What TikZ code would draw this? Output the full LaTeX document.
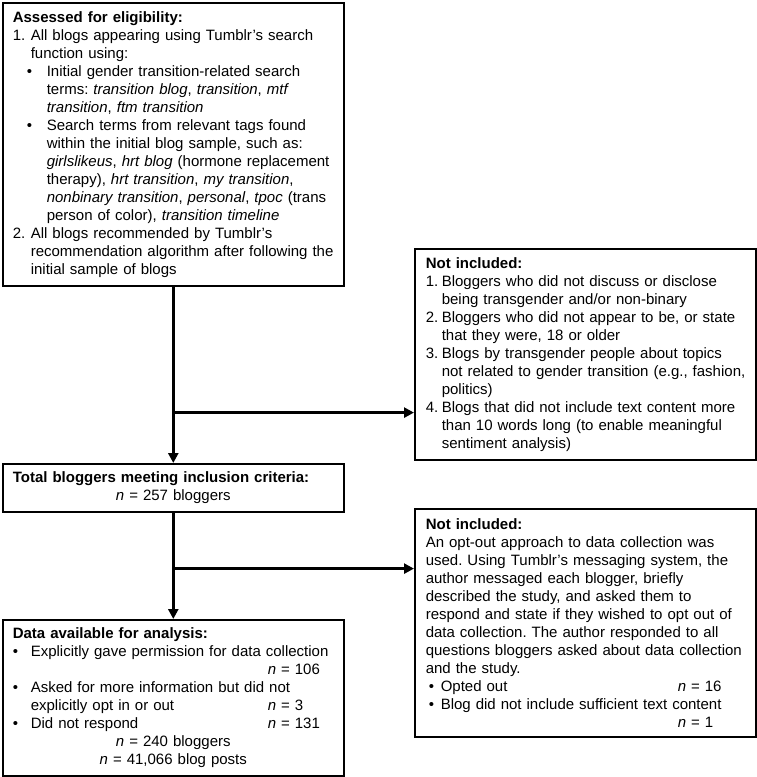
\documentclass[tikz,border=0pt]{standalone}
\usepackage{fontspec}
\setmainfont{Liberation Sans}
\usetikzlibrary{arrows.meta,positioning,calc}
\newcommand{\boxfont}{\fontsize{15}{18}\selectfont}
%% numbered line with hanging indent
\newcommand{\numline}[3][18pt]{\par\hangindent=#1\hangafter=1\noindent
\makebox[#1][l]{#2}#3\par}
%% bullet line: [indent]{label width}{text}
\newcommand{\bulline}[3][0pt]{\par\hangindent=\dimexpr#1+#2\relax\hangafter=1\noindent
\hspace*{#1}\makebox[#2][l]{\textbullet}#3\par}

\begin{document}
\begin{tikzpicture}
[x=1pt,y=-1pt,
box/.style={draw,line width=1.6pt,inner xsep=10pt,inner ysep=4pt,text width=321pt,
  minimum width=341pt,anchor=north west,font=\boxfont,
  execute at begin node={\setlength{\parindent}{0pt}\raggedright\frenchspacing}},
xbox/.style={box,inner xsep=11pt,text width=319pt},
flow/.style={line width=3pt,-{Triangle[length=10pt,width=10pt]}}
]
\useasboundingbox (0,0) rectangle (757,777);
%% main column
\node[box,minimum height=283pt] (assess) at (2,2) {%
\textbf{Assessed for eligibility:}\par
\numline{1.}{All blogs appearing using Tumblr's search\newline function using:}
\bulline[14pt]{20pt}{Initial gender transition-related search\newline
terms: \textit{transition blog}, \textit{transition}, \textit{mtf}\newline
\textit{transition}, \textit{ftm transition}}
\bulline[14pt]{20pt}{Search terms from relevant tags found\newline
within the initial blog sample, such as:\newline
\textit{girlslikeus}, \textit{hrt blog} (hormone replacement\newline
therapy), \textit{hrt transition}, \textit{my transition},\newline
\textit{nonbinary transition}, \textit{personal}, \textit{tpoc} (trans\newline
person of color), \textit{transition timeline}}
\numline{2.}{All blogs recommended by Tumblr's\newline
recommendation algorithm after following the\newline initial sample of blogs}};
\node[box,minimum height=48pt] (total) at (2,463) {%
\textbf{Total bloggers meeting inclusion criteria:}\par
{\centering\textit{n} = 257 bloggers\par}};
\node[box,minimum height=156pt] (data) at (2,619) {%
\textbf{Data available for analysis:}\par
\bulline{18pt}{Explicitly gave permission for data collection\newline
\hspace*{237pt}\textit{n} = 106}
\bulline{18pt}{Asked for more information but did not\newline
\makebox[237pt][l]{explicitly opt in or out}\textit{n} = 3}
\bulline{18pt}{\makebox[237pt][l]{Did not respond}\textit{n} = 131}
{\centering\textit{n} = 240 bloggers\\ \textit{n} = 41,066 blog posts\par}};
%% exclusions
\node[xbox,minimum height=211pt] (excl1) at (414,248) {%
\textbf{Not included:}\par
\numline[16pt]{1.}{Bloggers who did not discuss or disclose\newline
being transgender and/or non-binary}
\numline[16pt]{2.}{Bloggers who did not appear to be, or state\newline
that they were, 18 or older}
\numline[16pt]{3.}{Blogs by transgender people about topics\newline
\mbox{not related to gender transition (e.g., fashion,}\newline politics)}
\numline[16pt]{4.}{Blogs that did not include text content more\newline
than 10 words long (to enable meaningful\newline sentiment analysis)}};
\node[xbox,minimum height=228pt] (excl2) at (414,508) {%
\textbf{Not included:}\par
An opt-out approach to data collection was\newline
used. Using Tumblr's messaging system, the\newline
author messaged each blogger, briefly\newline
described the study, and asked them to\newline
respond and state if they wished to opt out of\newline
data collection. The author responded to all\newline
questions bloggers asked about data collection\newline
and the study.\par
\bulline[3pt]{12pt}{\makebox[237pt][l]{Opted out}\textit{n} = 16}
\bulline[3pt]{12pt}{Blog did not include sufficient text content\newline
\hspace*{237pt}\textit{n} = 1}};
%% connectors
\draw[flow] (assess.south) -- (total.north);
\draw[flow] (total.south) -- (data.north);
\path (assess.south) ++(0,126) coordinate (split1);
\path (total.south) ++(0,56) coordinate (split2);
\draw[flow] (split1) -- (split1 -| excl1.west);
\draw[flow] (split2) -- (split2 -| excl2.west);
\end{tikzpicture}
\end{document}
